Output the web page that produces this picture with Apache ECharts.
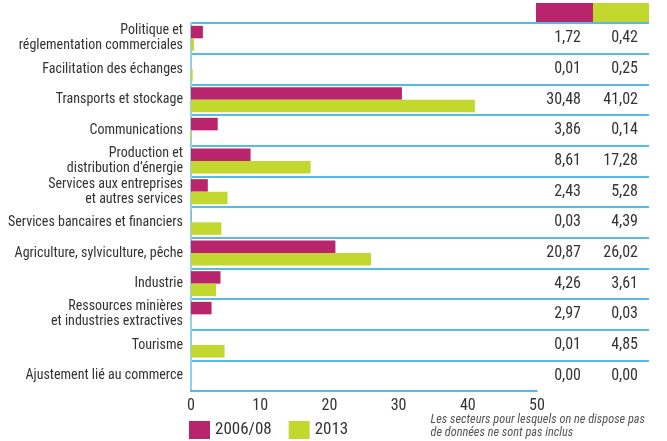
<!DOCTYPE html>
<html><head><meta charset="utf-8">
<script src="https://cdn.jsdelivr.net/npm/echarts@6/dist/echarts.min.js"></script>
<style>html,body{margin:0;padding:0;background:#fff}#c{width:667px;height:441px}</style>
</head><body><div id="c"></div>
<script>
var categories = [
  "Politique et\nréglementation commerciales",
  "Facilitation des échanges",
  "Transports et stockage",
  "Communications",
  "Production et\ndistribution d’énergie",
  "Services aux entreprises\net autres services",
  "Services bancaires et financiers",
  "Agriculture, sylviculture, pêche",
  "Industrie",
  "Ressources minières\net industries extractives",
  "Tourisme",
  "Ajustement lié au commerce"
];
var seriesNames = ["2006/08", "2013"];
var values2006 = [1.72, 0.01, 30.48, 3.86, 8.61, 2.43, 0.03, 20.87, 4.26, 2.97, 0.01, 0.00];
var values2013 = [0.42, 0.25, 41.02, 0.14, 17.28, 5.28, 4.39, 26.02, 3.61, 0.03, 4.85, 0.00];
var xTicks = [0, 10, 20, 30, 40, 50];
var noteLines = ["Les secteurs pour lesquels on ne dispose pas", "de données ne sont pas inclus"];

var MAG = "#B8256C", GRN = "#C3D82F", BLUE = "#1CA5DF", LBLUE = "#8ED2F0";
var FONT = "'Roboto Condensed', 'Liberation Sans Narrow', sans-serif";
var TXT = "#333";
function fmt(v){ return v.toFixed(2).replace('.', ','); }

var chart = echarts.init(document.getElementById('c'), null, {renderer: 'canvas'});
chart.setOption({
  animation: false,
  textStyle: {fontFamily: FONT},
  grid: [
    {left: 191, right: 130, top: 23, bottom: 50, outerBoundsMode: 'none', containLabel: false},
    {left: 191, right: 18, top: 23, bottom: 50, outerBoundsMode: 'none', containLabel: false}
  ],
  legend: {
    data: seriesNames, left: 189, top: 421, itemWidth: 21, itemHeight: 18, itemGap: 17,
    icon: 'rect', padding: 0,
    textStyle: {fontFamily: FONT, fontSize: 17, color: TXT}
  },
  xAxis: [
    {gridIndex: 0, type: 'value', min: xTicks[0], max: xTicks[xTicks.length-1], interval: 10,
     axisLine: {show: true, lineStyle: {color: BLUE, width: 1.5}},
     axisTick: {show: false}, splitLine: {show: false},
     axisLabel: {fontFamily: FONT, fontSize: 16, color: TXT, margin: 7}},
    {gridIndex: 1, type: 'value', min: 0, max: 1, show: false}
  ],
  yAxis: [
    {gridIndex: 0, type: 'category', data: categories, inverse: true,
     axisLine: {show: true, lineStyle: {color: LBLUE, width: 2}},
     axisTick: {show: false}, splitLine: {show: false},
     axisLabel: {fontFamily: FONT, fontSize: 14, lineHeight: 15, color: TXT, margin: 8, align: 'right'}},
    {gridIndex: 1, type: 'category', data: categories, inverse: true,
     axisLine: {show: false}, axisTick: {show: false}, axisLabel: {show: false},
     splitLine: {show: true, showMinLine: true, showMaxLine: false, lineStyle: {color: BLUE, width: 1.5}}},
    {gridIndex: 0, type: 'category', data: categories, inverse: true, position: 'right',
     axisLine: {show: false}, axisTick: {show: false}, splitLine: {show: false},
     axisLabel: {fontFamily: FONT, fontSize: 16, color: TXT, margin: 44, align: 'right',
       formatter: function(v, i){ return fmt(values2006[i]); }}},
    {gridIndex: 0, type: 'category', data: categories, inverse: true, position: 'right', offset: 0,
     axisLine: {show: false}, axisTick: {show: false}, splitLine: {show: false},
     axisLabel: {fontFamily: FONT, fontSize: 16, color: TXT, margin: 101, align: 'right',
       formatter: function(v, i){ return fmt(values2013[i]); }}}
  ],
  series: [
    {name: seriesNames[0], type: 'bar', xAxisIndex: 0, yAxisIndex: 0, data: values2006,
     barWidth: 12.5, barGap: '0%', itemStyle: {color: MAG}},
    {name: seriesNames[1], type: 'bar', xAxisIndex: 0, yAxisIndex: 0, data: values2013,
     barWidth: 12.5, barGap: '0%', itemStyle: {color: GRN}}
  ],
  graphic: [
    {type: 'rect', shape: {x: 536, y: 3, width: 57, height: 19}, style: {fill: MAG}},
    {type: 'rect', shape: {x: 593, y: 3, width: 56, height: 19}, style: {fill: GRN}},
    {type: 'text', right: 22, top: 413, style: {text: noteLines.join('\n'), align: 'right',
      font: 'italic 12.3px ' + FONT, fill: '#555', lineHeight: 13}}
  ]
});
</script></body></html>
